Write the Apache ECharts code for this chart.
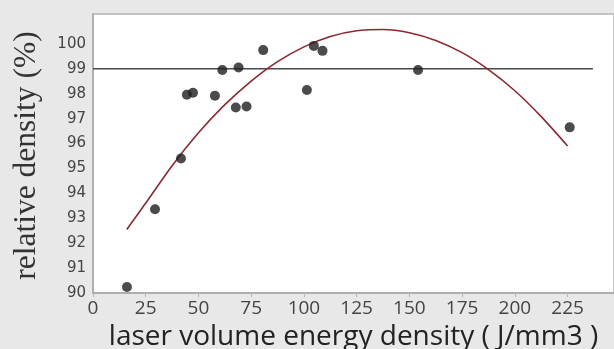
<!DOCTYPE html>
<html>
<head>
<meta charset="utf-8">
<script src="https://cdn.jsdelivr.net/npm/echarts@6/dist/echarts.min.js"></script>
<style>
html,body{margin:0;padding:0;background:#e8e8e8;}
#c{width:614px;height:349px;}
</style>
</head>
<body>
<div id="c"></div>
<script>
// Measured points: laser volume energy density (J/mm3) vs relative density (%)
var energyX = [16.1, 29.4, 41.7, 44.5, 47.4, 57.8, 61.3, 67.7, 69.0, 72.8, 80.7, 101.4, 104.7, 108.8, 154.1, 226.0];
var densityY = [90.24, 93.36, 95.4, 97.96, 98.04, 97.92, 98.95, 97.45, 99.05, 97.49, 99.75, 98.15, 99.92, 99.72, 98.95, 96.65];
// Fit curve
var fitX = [16, 25, 37.5, 50, 62.5, 75, 87.5, 100, 112.5, 125, 137.5, 150, 162.5, 175, 187.5, 200, 212.5, 225];
var fitY = [92.55, 93.61, 95.11, 96.43, 97.56, 98.51, 99.29, 99.88, 100.30, 100.53, 100.58, 100.45, 100.14, 99.65, 98.97, 98.12, 97.08, 95.9];
// Reference line at 99 %
var refX = [0, 237];
var refY = [99, 99];
var xTicks = [0, 25, 50, 75, 100, 125, 150, 175, 200, 225];
var yTicks = [90, 91, 92, 93, 94, 95, 96, 97, 98, 99, 100];

function zip(a, b) { return a.map(function (v, i) { return [v, b[i]]; }); }

var chart = echarts.init(document.getElementById('c'));
chart.setOption({
  backgroundColor: '#e8e8e8',
  animation: false,
  grid: {
    left: 93, right: 0, top: 14, bottom: 56,
    containLabel: false, outerBoundsMode: 'none',
    show: true, backgroundColor: '#ffffff', borderColor: '#b4b4b4', borderWidth: 1.5
  },
  xAxis: {
    type: 'value', min: 0, max: 247, interval: 25,
    name: 'laser volume energy density ( J/mm3 )',
    nameLocation: 'middle', nameGap: 29,
    nameTextStyle: { fontFamily: 'Open Sans', fontSize: 28, color: '#222' },
    axisLine: { show: true, lineStyle: { color: '#a8a8a8', width: 1.5 } },
    axisTick: { show: true, length: 4, inside: false, lineStyle: { color: '#b8b8b8' } },
    axisLabel: {
      fontFamily: 'Open Sans', fontSize: 19, color: '#444', margin: 6,
      showMaxLabel: false,
      formatter: function (v) { return xTicks.indexOf(v) >= 0 ? String(v) : ''; }
    },
    splitLine: { show: false }
  },
  yAxis: {
    type: 'value', min: 90, max: 101.2, interval: 1,
    name: 'relative density (%)',
    nameLocation: 'middle', nameGap: 50, nameRotate: 90,
    nameTextStyle: { fontFamily: 'Liberation Serif', fontSize: 31.5, color: '#333', padding: [0, 4, 0, 0] },
    axisLine: { show: true, lineStyle: { color: '#a8a8a8', width: 1.5 } },
    axisTick: { show: false },
    axisLabel: {
      fontFamily: 'DejaVu Sans', fontSize: 15, color: '#444', margin: 7,
      showMaxLabel: false,
      formatter: function (v) { return yTicks.indexOf(v) >= 0 ? String(v) : ''; }
    },
    splitLine: { show: false }
  },
  series: [
    {
      type: 'line', data: zip(refX, refY), symbol: 'none',
      lineStyle: { color: '#4a4a4a', width: 1.5 }, z: 2
    },
    {
      type: 'line', data: zip(fitX, fitY), symbol: 'none', smooth: 0.3,
      lineStyle: { color: '#8a2a30', width: 1.6 }, z: 3
    },
    {
      type: 'scatter', data: zip(energyX, densityY), symbolSize: 10,
      itemStyle: { color: '#1e1e1e' }, z: 4
    }
  ]
});
</script>
</body>
</html>
